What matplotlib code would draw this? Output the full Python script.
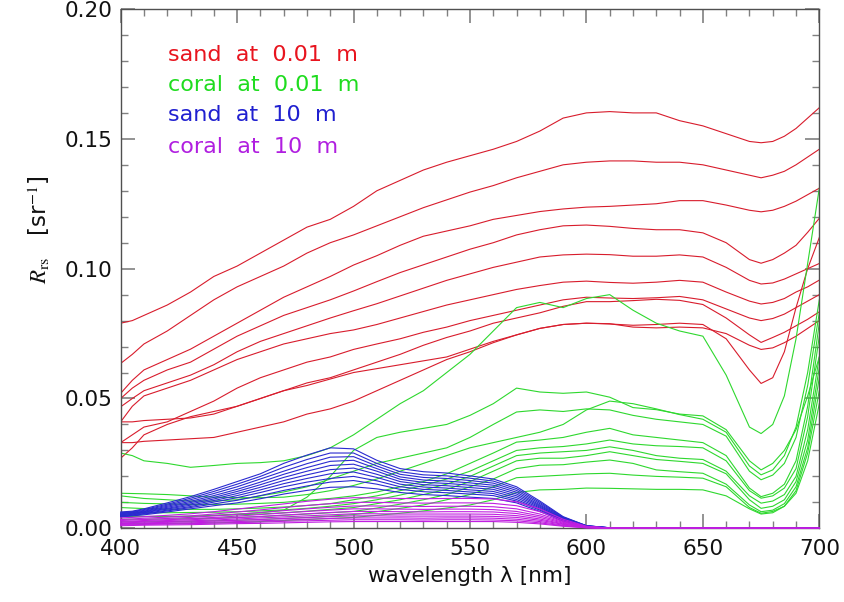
import matplotlib
matplotlib.use("Agg")
import matplotlib.pyplot as plt
from matplotlib.ticker import MultipleLocator, FormatStrFormatter

# wavelength grids (nm)
wl = [400, 405, 410, 420, 430, 440, 450, 460, 470, 480, 490, 500, 510, 520, 530, 540,
      550, 560, 570, 580, 590, 600, 610, 620, 630, 640, 650, 660, 670, 675, 680, 685,
      690, 695, 700]
wl_deep = [400, 405, 410, 420, 430, 440, 450, 460, 470, 480, 490, 500, 510, 520, 530,
           540, 550, 560, 570, 580, 590, 600, 610, 700]

# sand at 0.01 m (red)
r1 = [.079, .080, .082, .086, .091, .097, .101, .106, .111, .116, .119, .124, .130, .134, .138, .141, .1435, .146, .149, .153, .158, .160, .1605, .160, .160, .157, .155, .152, .149, .1485, .149, .151, .154, .158, .162]
r2 = [.0635, .067, .071, .076, .082, .088, .093, .097, .101, .106, .110, .113, .1165, .120, .1235, .1265, .1295, .132, .135, .1375, .140, .141, .1415, .1415, .141, .141, .140, .138, .136, .135, .136, .1375, .140, .143, .146]
r3 = [.052, .057, .061, .065, .069, .074, .079, .084, .089, .093, .097, .1014, .105, .109, .1125, .1145, .1165, .119, .1205, .122, .123, .1237, .124, .1245, .125, .1262, .1262, .1245, .1225, .1219, .1225, .124, .126, .1285, .131]
r4 = [.050, .054, .057, .061, .064, .069, .074, .078, .082, .085, .088, .0914, .095, .0985, .1015, .1045, .1075, .110, .113, .115, .1165, .1168, .1163, .1155, .115, .115, .1138, .110, .1035, .1021, .1035, .106, .109, .114, .1194]
r5 = [.0468, .050, .053, .056, .059, .063, .068, .072, .075, .078, .081, .0838, .0865, .0895, .0925, .0955, .098, .1005, .1025, .1045, .1053, .1056, .1054, .1048, .1048, .1053, .1045, .1005, .0955, .0941, .0945, .096, .098, .100, .102]
r6 = [.041, .047, .051, .054, .057, .061, .065, .068, .071, .073, .075, .0764, .0785, .081, .0835, .086, .088, .090, .092, .0935, .0948, .0952, .0947, .0944, .0948, .0955, .0948, .091, .0875, .0864, .087, .0885, .091, .093, .0956]
r7 = [.033, .036, .039, .041, .045, .049, .054, .058, .061, .064, .066, .0689, .071, .073, .0755, .0775, .080, .082, .084, .086, .088, .089, .0887, .0885, .0888, .0893, .088, .0845, .081, .080, .0808, .0825, .085, .0875, .090]
r8 = [.041, .041, .0415, .042, .0425, .044, .047, .050, .053, .056, .058, .061, .064, .067, .0705, .0735, .076, .079, .081, .083, .0855, .0873, .0873, .0877, .0882, .0878, .0862, .081, .0745, .0716, .0735, .0755, .078, .0805, .0834]
r9 = [.027, .031, .036, .040, .043, .045, .047, .050, .053, .055, .0575, .060, .0615, .063, .0645, .066, .069, .072, .0745, .077, .0785, .079, .0788, .0775, .0772, .0775, .0772, .075, .0705, .0689, .0695, .0715, .074, .077, .080]
r10 = [.033, .033, .0335, .034, .0345, .035, .037, .039, .041, .044, .046, .049, .053, .057, .061, .065, .068, .0715, .0745, .077, .0785, .079, .0787, .0782, .0785, .079, .0785, .073, .061, .0558, .058, .068, .085, .100, .112]

# coral at 0.01 m (green)
g1 = [.029, .028, .026, .025, .0235, .0242, .025, .0253, .026, .028, .031, .036, .042, .048, .053, .060, .067, .076, .085, .087, .085, .0885, .090, .084, .079, .076, .074, .059, .039, .0365, .040, .051, .073, .102, .131]
g2 = [.005, .0048, .0046, .0045, .0045, .005, .0055, .006, .007, .012, .020, .030, .035, .037, .0385, .040, .0435, .048, .054, .0525, .052, .0525, .0505, .0465, .0457, .044, .0433, .038, .026, .0225, .025, .030, .038, .051, .066]
g3 = [.0135, .0134, .0133, .013, .0125, .012, .0118, .0118, .012, .013, .0145, .0165, .019, .022, .025, .028, .031, .033, .035, .037, .040, .0456, .049, .048, .046, .0438, .042, .037, .024, .0206, .0225, .028, .039, .060, .088]
g4 = [.0125, .012, .0115, .011, .0105, .0105, .011, .0125, .014, .016, .019, .022, .025, .027, .029, .031, .035, .040, .0448, .0456, .045, .046, .0456, .0435, .042, .041, .040, .0355, .022, .0187, .0205, .025, .035, .055, .083]
g5 = [.010, .0098, .0096, .0094, .0092, .0092, .0093, .0096, .010, .0108, .0115, .0125, .014, .016, .018, .021, .025, .029, .0332, .034, .035, .037, .0385, .036, .035, .034, .033, .028, .0155, .0122, .0135, .017, .026, .047, .079]
g6 = [.008, .0078, .0076, .0074, .0073, .0073, .0075, .0078, .0082, .0088, .0095, .011, .0125, .0145, .0165, .019, .022, .026, .030, .031, .0315, .0325, .034, .0325, .0318, .0315, .031, .026, .0145, .0116, .0125, .0155, .023, .043, .074]
g7 = [.006, .006, .006, .006, .0061, .0062, .0064, .0067, .0071, .0077, .0085, .0095, .011, .0128, .0148, .017, .020, .024, .028, .029, .0295, .030, .0314, .030, .028, .027, .0265, .022, .0125, .0097, .0105, .013, .020, .038, .066]
g8 = [.0045, .0045, .0045, .0046, .0047, .0049, .0052, .0055, .006, .0066, .0073, .008, .0095, .011, .013, .015, .018, .022, .026, .027, .027, .028, .0295, .028, .0265, .0258, .025, .021, .011, .0077, .0085, .011, .018, .034, .062]
g9 = [.0035, .0035, .0035, .0036, .0037, .0039, .0042, .0045, .005, .0055, .006, .0065, .0078, .0093, .011, .013, .016, .019, .023, .0243, .0245, .0255, .0263, .025, .0225, .0218, .0212, .017, .009, .0064, .007, .0095, .016, .031, .058]
g10 = [.0025, .0025, .0025, .0026, .0027, .0029, .0031, .0034, .0038, .0042, .0047, .0053, .0064, .0077, .009, .011, .013, .016, .0195, .020, .0205, .021, .0212, .0205, .020, .0197, .0193, .016, .008, .0058, .0065, .0085, .0145, .029, .053]
g11 = [.0018, .0018, .0018, .0019, .002, .0021, .0023, .0026, .003, .0034, .0038, .0042, .005, .0058, .0067, .0078, .009, .011, .0138, .0148, .015, .0155, .0154, .0152, .015, .015, .0148, .0125, .0075, .0055, .006, .0085, .0135, .026, .048]

# sand at 10 m (blue)
b1 = [.0063, .0066, .0075, .0098, .0122, .015, .018, .021, .025, .0282, .031, .0306, .0262, .023, .0218, .0213, .0202, .019, .016, .0105, .0045, .001, .0002, 0]
b2 = [.0060, .0064, .0072, .0093, .0116, .0142, .017, .020, .0235, .0265, .029, .029, .025, .0218, .0206, .0202, .0193, .0182, .0153, .010, .0043, .001, .0002, 0]
b3 = [.0058, .0062, .0069, .0089, .0110, .0134, .016, .019, .022, .0249, .0274, .0276, .024, .0208, .0196, .0192, .0184, .0174, .0146, .0095, .0041, .001, .0002, 0]
b4 = [.0056, .0060, .0066, .0085, .0104, .0126, .015, .0178, .0208, .0234, .0258, .0262, .023, .0198, .0186, .0182, .0175, .0166, .0139, .009, .0039, .0009, .0002, 0]
b5 = [.0054, .0058, .0064, .0081, .0099, .0119, .0142, .0168, .0196, .0220, .0242, .0247, .022, .0189, .0177, .0173, .0166, .0158, .0132, .0086, .0037, .0009, .0002, 0]
b6 = [.0052, .0056, .0062, .0077, .0094, .0113, .0134, .0158, .0184, .0206, .0226, .0232, .0208, .018, .0168, .0164, .0157, .015, .0125, .0082, .0035, .0008, .0001, 0]
b7 = [.0050, .0054, .0060, .0074, .0089, .0107, .0126, .0148, .0172, .0192, .0210, .0217, .0196, .017, .0159, .0155, .0148, .0142, .0118, .0078, .0033, .0008, .0001, 0]
b8 = [.0048, .0052, .0057, .0070, .0084, .0101, .0118, .0138, .0160, .0178, .0192, .0200, .0183, .016, .015, .0146, .014, .0134, .0111, .0074, .0031, .0007, .0001, 0]
b9 = [.0046, .0050, .0055, .0067, .0080, .0094, .0108, .0126, .0146, .0163, .0178, .0184, .017, .015, .0141, .0137, .0132, .0126, .0105, .007, .0029, .0007, .0001, 0]
b10 = [.0044, .0048, .0052, .0063, .0075, .0087, .0098, .0114, .0132, .0146, .0158, .0160, .0152, .0138, .013, .0126, .012, .0115, .0098, .0065, .0027, .0006, .0001, 0]

# coral at 10 m (purple)
p1 = [.004, .0042, .0045, .005, .0056, .0064, .0074, .0084, .0094, .0104, .0112, .0118, .0117, .0115, .0114, .0115, .0115, .0113, .0102, .0075, .0035, .0008, .0001, 0]
p2 = [.0034, .0036, .0039, .0043, .0048, .0055, .0063, .0071, .0080, .0088, .0095, .0100, .0100, .0098, .0097, .0098, .0098, .0096, .0087, .0064, .0030, .0007, .0001, 0]
p3 = [.0030, .0032, .0034, .0038, .0042, .0048, .0054, .0061, .0068, .0075, .0081, .0086, .0086, .0085, .0084, .0085, .0085, .0083, .0075, .0055, .0026, .0006, .0001, 0]
p4 = [.0027, .0028, .0030, .0033, .0037, .0042, .0047, .0053, .0059, .0065, .0070, .0075, .0075, .0074, .0073, .0074, .0074, .0072, .0065, .0048, .0023, .0005, .0001, 0]
p5 = [.0024, .0025, .0027, .0030, .0033, .0037, .0041, .0046, .0051, .0056, .0061, .0065, .0065, .0064, .0063, .0064, .0064, .0063, .0057, .0042, .0020, .0005, .0001, 0]
p6 = [.0021, .0022, .0024, .0026, .0029, .0032, .0036, .0040, .0044, .0048, .0052, .0056, .0056, .0055, .0055, .0055, .0055, .0054, .0049, .0036, .0017, .0004, .0001, 0]
p7 = [.0018, .0019, .0021, .0023, .0025, .0028, .0031, .0034, .0038, .0041, .0045, .0048, .0048, .0047, .0047, .0047, .0047, .0046, .0042, .0031, .0015, .0004, .0001, 0]
p8 = [.0015, .0016, .0018, .0019, .0021, .0024, .0026, .0029, .0032, .0035, .0038, .0040, .0040, .0040, .0039, .0040, .0040, .0039, .0035, .0026, .0012, .0003, 0, 0]
p9 = [.0013, .0014, .0015, .0016, .0018, .0020, .0022, .0024, .0027, .0029, .0031, .0033, .0033, .0033, .0032, .0033, .0033, .0032, .0029, .0021, .0010, .0002, 0, 0]
p10 = [.0010, .0011, .0012, .0013, .0014, .0016, .0018, .0019, .0021, .0023, .0025, .0026, .0026, .0026, .0026, .0026, .0026, .0026, .0023, .0017, .0008, .0002, 0, 0]

sand_shallow = [r1, r2, r3, r4, r5, r6, r7, r8, r9, r10]
coral_shallow = [g1, g2, g3, g4, g5, g6, g7, g8, g9, g10, g11]
sand_deep = [b1, b2, b3, b4, b5, b6, b7, b8, b9, b10]
coral_deep = [p1, p2, p3, p4, p5, p6, p7, p8, p9, p10]

legend_labels = ["sand  at  0.01  m", "coral  at  0.01  m", "sand  at  10  m", "coral  at  10  m"]
x_ticks = [400, 450, 500, 550, 600, 650, 700]
y_ticks = [0.00, 0.05, 0.10, 0.15, 0.20]

RED, GREEN, BLUE, PURPLE = "#d81c2c", "#2ed82e", "#2a2ad0", "#c01ee0"
TXT = ["#e8141e", "#1fdc1f", "#2020d0", "#b01ee0"]

plt.rcParams["font.family"] = ["DejaVu Sans"]
plt.rcParams["mathtext.fontset"] = "stix"

fig = plt.figure(figsize=(8.45, 6.02), dpi=100)
ax = fig.add_axes([0.1428, 0.1224, 0.8268, 0.8626])

for s in sand_shallow:
    ax.plot(wl, s, color=RED, lw=0.8)
for s in coral_shallow:
    ax.plot(wl, s, color=GREEN, lw=0.8)
for s in sand_deep:
    ax.plot(wl_deep, s, color=BLUE, lw=0.8, zorder=3, clip_on=False)
for s in coral_deep:
    ax.plot(wl_deep, s, color=PURPLE, lw=0.8, zorder=3, clip_on=False)

ax.set_xlim(400, 700)
ax.set_ylim(0, 0.2)
ax.set_xticks(x_ticks)
ax.set_yticks(y_ticks)
ax.xaxis.set_minor_locator(MultipleLocator(10))
ax.yaxis.set_minor_locator(MultipleLocator(0.01))
ax.yaxis.set_major_formatter(FormatStrFormatter("%.2f"))
ax.tick_params(which="both", direction="in", top=True, right=True,
               color="#808080", labelsize=15.5, labelcolor="#111111")
ax.tick_params(axis="x", which="major", length=10, width=1.2, pad=8)
ax.tick_params(axis="y", which="major", length=10, width=1.2, pad=6)
ax.tick_params(which="minor", length=5, width=1.0)
for sp in ax.spines.values():
    sp.set_color("#505050")
    sp.set_linewidth(1.0)

ax.set_xlabel("wavelength λ [nm]", fontsize=15.5, color="#111111", labelpad=5)
ax.set_ylabel(r"$\mathit{R}_{\rm rs}$   [sr$^{-1}$]", fontsize=16.5, color="#111111")
ax.yaxis.set_label_coords(-0.098, 0.575)

ys = [0.912, 0.8537, 0.796, 0.735]
for lab, c, y in zip(legend_labels, TXT, ys):
    ax.text(0.068, y, lab, transform=ax.transAxes, color=c, fontsize=16,
            ha="left", va="center")

fig.savefig("out.png", dpi=100)
